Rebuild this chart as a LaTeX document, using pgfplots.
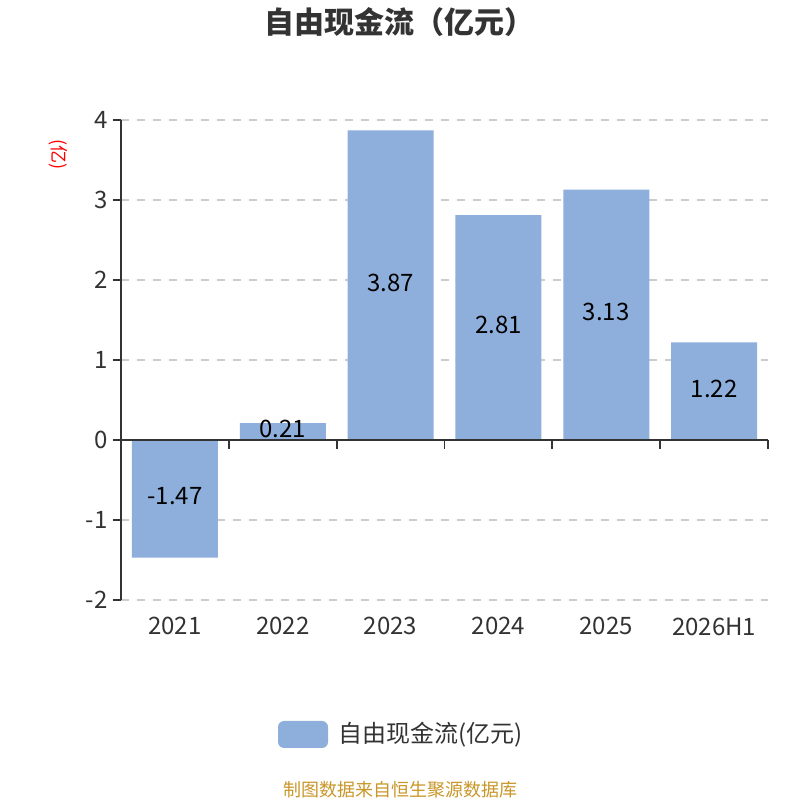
\documentclass[border=0pt]{standalone}
\usepackage{pgfplots}
\pgfplotsset{compat=1.18}
\usepackage{pgfplotstable}
\usepackage{fontspec}
\setmainfont{Noto Sans CJK SC}
\definecolor{barc}{RGB}{142,174,219}
\definecolor{txt}{RGB}{51,51,51}
\definecolor{gridc}{RGB}{204,204,204}
\definecolor{foot}{RGB}{200,150,40}
\pgfplotstableread{
x y half
0 -1.47 -0.735
1 0.21 0.105
2 3.87 1.935
3 2.81 1.405
4 3.13 1.565
5 1.22 0.61
}\data
\begin{document}
\begin{tikzpicture}[x=1pt,y=1pt]
\path[use as bounding box] (0,0) rectangle (800,800);
\begin{axis}[
  at={(121pt,200pt)}, anchor=south west,
  scale only axis, width=647pt, height=480pt,
  xmin=-0.5, xmax=5.5, ymin=-2, ymax=4,
  axis x line*=bottom,
  x axis line style={draw=none},
  xtick={0,1,2,3,4,5},
  xticklabels={2021,2022,2023,2024,2025,2026H1},
  xtick style={draw=none},
  xticklabel style={font=\fontsize{24}{24}\selectfont, text=txt, yshift=-6pt},
  axis y line*=left,
  y axis line style={color=txt, line width=1.8pt, -},
  ytick={-2,-1,0,1,2,3,4},
  ytick style={color=txt, line width=1.8pt},
  tick align=outside, major tick length=8pt,
  ymajorgrids, grid style={gridc, dash pattern=on 8pt off 8pt, line width=1.6pt},
  yticklabel style={font=\fontsize{24}{24}\selectfont, text=txt, xshift=-2pt},
  /pgf/number format/assume math mode=true,
  clip=false,
]
\addplot[ybar, bar width=86pt, fill=barc, draw=none] table[x=x,y=y]{\data};
\addplot[draw=none, mark=none, nodes near coords, point meta=explicit,
  nodes near coords style={font=\fontsize{24}{24}\selectfont, text=black, anchor=center, yshift=2.5pt,
  /pgf/number format/fixed, /pgf/number format/precision=2, /pgf/number format/fixed zerofill}]
  table[x=x,y=half,meta=y]{\data};
\draw[txt, line width=1.8pt] (axis cs:-0.5,0) -- (axis cs:5.5,0);
\pgfplotsinvokeforeach{-0.5,0.5,1.5,2.5,3.5,4.5,5.5}{
  \draw[txt, line width=1.8pt] (axis cs:#1,0) -- ([yshift=-9pt]axis cs:#1,0);
}
\end{axis}
\node[font=\fontsize{30}{30}\selectfont\bfseries, text=txt] at (399,778) {自由现金流（亿元）};
\node[font=\fontsize{18}{18}\selectfont, text=red, rotate=-90] at (58,645) {(亿)};
\fill[barc, rounded corners=6pt] (278,52) rectangle (328,79);
\node[font=\fontsize{24}{24}\selectfont, text=txt, anchor=west] at (335,65) {自由现金流(亿元)};
\node[font=\fontsize{18}{18}\selectfont, text=foot] at (400,10) {制图数据来自恒生聚源数据库};
\end{tikzpicture}
\end{document}
